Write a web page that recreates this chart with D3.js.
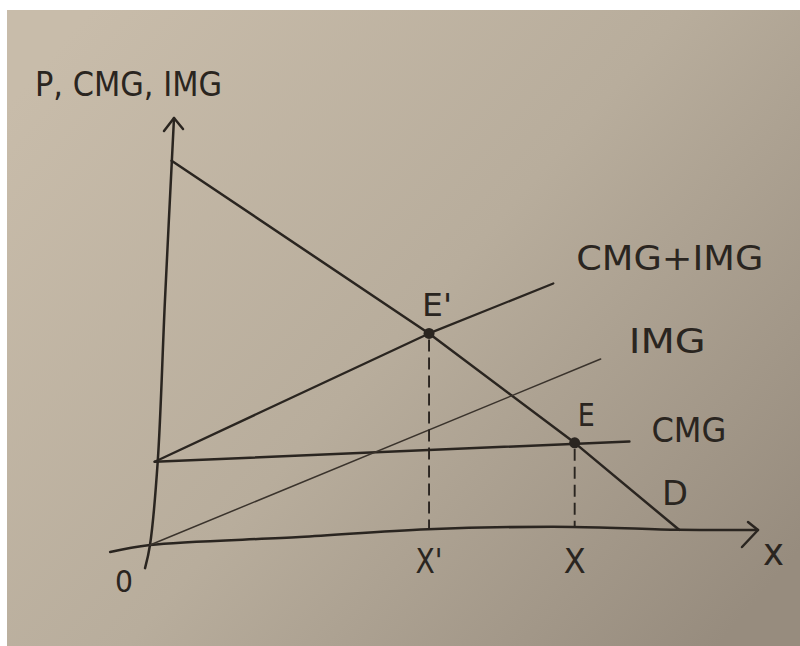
<!DOCTYPE html>
<html><head><meta charset="utf-8">
<script src="https://cdn.jsdelivr.net/npm/d3@7"></script>
<style>html,body{margin:0;padding:0;background:#fff}svg{display:block}</style>
</head><body>
<svg id="chart" width="800" height="646"></svg>
<script>
// Quantity (x) / price (y) pairs for each drawn curve
const axisX   = [[-0.65,-0.14],[0,0],[2.46,0.10],[4.56,0.21],[6.95,0.18],[8.7,0.05],[10,0]];
const axisY   = [[-0.06,-0.54],[0,0],[0.05,1.95],[0.02,5.7],[0,10]];
const demand  = [[0,9],[4.4,4.8],[6.9,2.15],[8.7,0.05]];
const cmg     = [[0,1.95],[7.8,2.15]];
const img     = [[0,0],[7.25,4.1]];
const cmgImg  = [[0,1.95],[4.4,4.8],[6.4,5.9]];
const equilibria = [
  {name:"E'", tick:"X'", q:4.4, p:4.8},
  {name:"E",  tick:"X",  q:6.9, p:2.15}
];
const yTitle = "P, CMG, IMG";
const xTitle = "x";
const originLabel = "0";
const curveNames = {cmgImg:"CMG+IMG", img:"IMG", cmg:"CMG", demand:"D"};

const W = 800, H = 646;
const ink = "#2a2520";
const svg = d3.select("#chart");

// paper background
const defs = svg.append("defs");
const grad = defs.append("linearGradient").attr("id","paper")
  .attr("x1","0").attr("y1","0.15").attr("x2","1").attr("y2","0.85");
grad.append("stop").attr("offset","0").attr("stop-color","#c8bcaa");
grad.append("stop").attr("offset","0.5").attr("stop-color","#b8ad9c");
grad.append("stop").attr("offset","1").attr("stop-color","#978c7e");
svg.append("rect").attr("x",0).attr("y",0).attr("width",W).attr("height",H).attr("fill","#fff");
svg.append("rect").attr("x",7).attr("y",10).attr("width",W-7).attr("height",H-10).attr("fill","url(#paper)");

// scales and a slight shear of the hand-drawn frame around the origin
const x = d3.scaleLinear().domain([0,10]).range([150,758]);
const y = d3.scaleLinear().domain([0,10]).range([545,118]);
const kx = 0.05621, ky = 0.02467;
const ox = x(0), oy = y(0);
function project(q,p){
  const u = x(q) - ox, v = y(p) - oy;
  return [ox + u - kx*v, oy - ky*u + v];
}
const line = d3.line().x(d=>project(d[0],d[1])[0]).y(d=>project(d[0],d[1])[1]);

const g = svg.append("g").attr("fill","none").attr("stroke",ink).attr("stroke-linecap","round").attr("stroke-linejoin","round");

// axes
g.append("path").attr("d", line.curve(d3.curveCatmullRom)(axisX)).attr("stroke-width",2.5);
g.append("path").attr("d", line.curve(d3.curveCatmullRom)(axisY)).attr("stroke-width",2.5);
line.curve(d3.curveLinear);

const tipX = project(...axisX[axisX.length-1]);
const tipY = project(...axisY[axisY.length-1]);
g.append("path").attr("stroke-width",2.5)
  .attr("d",`M${tipX[0]-10},${tipX[1]-8}L${tipX[0]},${tipX[1]}L${tipX[0]-16},${tipX[1]+17}`);
g.append("path").attr("stroke-width",2.5)
  .attr("d",`M${tipY[0]-10},${tipY[1]+13}L${tipY[0]},${tipY[1]}L${tipY[0]+9},${tipY[1]+11}`);

// curves
g.append("path").attr("d", line(demand)).attr("stroke-width",2.5);
g.append("path").attr("d", line(cmg)).attr("stroke-width",2.5);
g.append("path").attr("d", line(cmgImg)).attr("stroke-width",2.3);
g.append("path").attr("d", line(img)).attr("stroke-width",1.5).attr("stroke","#3a332c");

// height of the drawn x axis at quantity q
function axisAt(q){
  for(let i=1;i<axisX.length;i++){
    const a=axisX[i-1], b=axisX[i];
    if(q<=b[0]){ const t=(q-a[0])/(b[0]-a[0]); return a[1]+t*(b[1]-a[1]); }
  }
  return 0;
}

// vertical dashed drop lines from each equilibrium to the x axis
equilibria.forEach(e=>{
  const top = project(e.q,e.p);
  const foot = project(e.q,axisAt(e.q));
  g.append("path").attr("d", d3.line()([[top[0],top[1]+6],[top[0],foot[1]]]))
    .attr("stroke-width",1.9).attr("stroke-dasharray","12,6").attr("stroke-linecap","butt");
});
svg.selectAll("circle.eq").data(equilibria).join("circle").attr("class","eq")
  .attr("cx",d=>project(d.q,d.p)[0]).attr("cy",d=>project(d.q,d.p)[1])
  .attr("r",5.5).attr("fill",ink);

// labels
const font = "'DejaVu Sans', sans-serif";
function label(txt, px, py, size, len, anchor){
  const t = svg.append("text").attr("x",px).attr("y",py).text(txt)
    .attr("font-family",font).attr("font-size",size).attr("fill",ink)
    .attr("text-anchor",anchor||"start");
  if(len) t.attr("textLength",len).attr("lengthAdjust","spacingAndGlyphs");
  return t;
}
label(yTitle, 35, 96, 33, 187);

const endCI = project(...cmgImg[cmgImg.length-1]);
label(curveNames.cmgImg, endCI[0]+23, endCI[1]-13, 34, 187);
const endI = project(...img[img.length-1]);
label(curveNames.img, endI[0]+28, endI[1]-6, 34, 77);
const endC = project(...cmg[cmg.length-1]);
label(curveNames.cmg, endC[0]+22, endC[1]+1, 33, 75);
const endD = project(...demand[demand.length-1]);
label(curveNames.demand, endD[0]-17, endD[1]-25, 34, 26);

equilibria.forEach(e=>{
  const p = project(e.q,e.p);
  label(e.name, p[0]-7+(e.name.length>1?0:10), p[1]-17, 32, e.name.length>1?30:17);
  label(e.tick, p[0], 573 , 33, e.tick.length>1?27:22, "middle");
});
label(xTitle, tipX[0]+5, tipX[1]+35, 38, 21);
label(originLabel, ox-35, oy+47, 30, 18);
</script>
</body></html>
